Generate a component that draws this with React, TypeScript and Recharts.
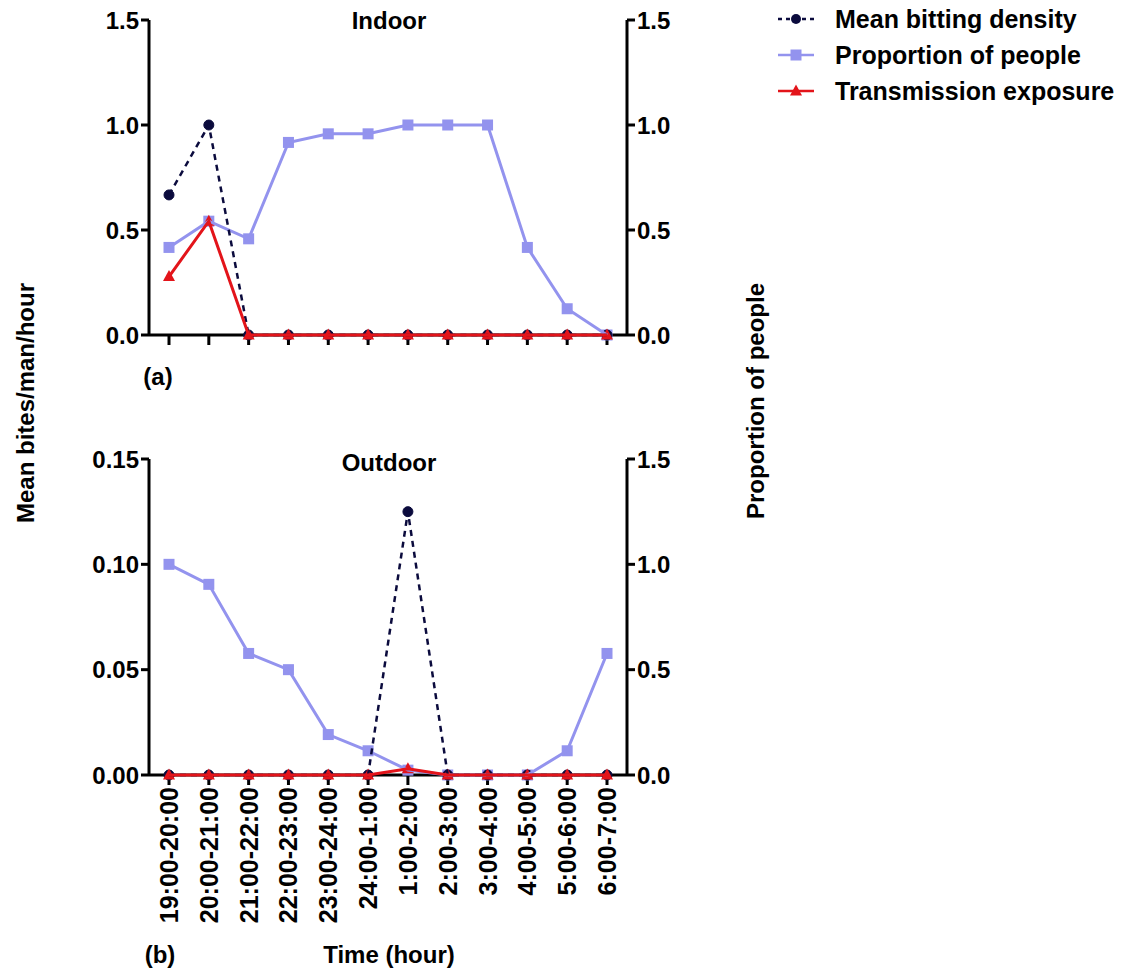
import React from "react";
import { LineChart, Line, XAxis, YAxis } from "recharts";

const FONT = "'Liberation Sans', Arial, sans-serif";

const timeLabels = [
  "19:00-20:00", "20:00-21:00", "21:00-22:00", "22:00-23:00", "23:00-24:00", "24:00-1:00",
  "1:00-2:00", "2:00-3:00", "3:00-4:00", "4:00-5:00", "5:00-6:00", "6:00-7:00",
];

// (a) indoor
const indoorDensity = [0.667, 1.0, 0, 0, 0, 0, 0, 0, 0, 0, 0, 0];
const indoorProportion = [0.417, 0.542, 0.458, 0.917, 0.958, 0.958, 1.0, 1.0, 1.0, 0.417, 0.125, 0];
const indoorExposure = [0.278, 0.542, 0, 0, 0, 0, 0, 0, 0, 0, 0, 0];

// (b) outdoor
const outdoorDensity = [0, 0, 0, 0, 0, 0, 0.125, 0, 0, 0, 0, 0];
const outdoorProportion = [1.0, 0.905, 0.577, 0.5, 0.192, 0.115, 0.023, 0, 0, 0, 0.115, 0.577];
const outdoorExposure = [0, 0, 0, 0, 0, 0, 0.003, 0, 0, 0, 0, 0];

const indoorTicks = [0, 0.5, 1.0, 1.5];
const outdoorTicks = [0, 0.05, 0.1, 0.15];
const proportionTicks = [0, 0.5, 1.0, 1.5];

const NAVY = "#0b0b3d";
const LILAC = "#9393ee";
const RED = "#e3141a";

const buildRows = (density: number[], proportion: number[], exposure: number[]) =>
  timeLabels.map((t, i) => ({ time: t, density: density[i], proportion: proportion[i], exposure: exposure[i] }));

const indoorData = buildRows(indoorDensity, indoorProportion, indoorExposure);
const outdoorData = buildRows(outdoorDensity, outdoorProportion, outdoorExposure);

const tickStyle = { fill: "#000", fontSize: 24, fontWeight: "bold", fontFamily: FONT };
const axisStroke = { stroke: "#000", strokeWidth: 3 };

const CircleDot = (props: any) => (
  <circle key={`c-${props.index}`} cx={props.cx} cy={props.cy} r={5} fill={NAVY} stroke={NAVY} />
);
const SquareDot = (props: any) => (
  <rect key={`s-${props.index}`} x={props.cx - 5.5} y={props.cy - 5.5} width={11} height={11} fill={LILAC} />
);
const TriDot = (props: any) => (
  <path
    key={`t-${props.index}`}
    d={`M${props.cx},${props.cy - 6.5} L${props.cx + 6},${props.cy + 4.5} L${props.cx - 6},${props.cy + 4.5} Z`}
    fill={RED}
  />
);

const RotatedTick = (props: any) => {
  const { x, y, payload } = props;
  return (
    <text
      x={x}
      y={y}
      transform={`rotate(-90, ${x}, ${y})`}
      textAnchor="end"
      dominantBaseline="central"
      style={{ ...tickStyle, fontSize: 25 }}
    >
      {payload.value}
    </text>
  );
};

const EmptyTick = () => <g />;

interface PanelProps {
  data: any[];
  top: number;
  height: number;
  marginTop: number;
  marginBottom: number;
  xHeight: number;
  leftMax: number;
  leftTicks: number[];
  leftDigits: number;
  showLabels: boolean;
}

const Panel = ({ data, top, height, marginTop, marginBottom, xHeight, leftMax, leftTicks, leftDigits, showLabels }: PanelProps) => (
  <div style={{ position: "absolute", left: 0, top }}>
    <LineChart width={700} height={height} data={data} margin={{ top: marginTop, right: 13, bottom: marginBottom, left: 89 }}>
      <XAxis
        dataKey="time"
        interval={0}
        padding={{ left: 20, right: 20 }}
        height={xHeight}
        axisLine={axisStroke}
        tickLine={axisStroke}
        tickSize={10}
        tick={showLabels ? <RotatedTick /> : <EmptyTick />}
      />
      <YAxis
        yAxisId="left"
        width={60}
        domain={[0, leftMax]}
        ticks={leftTicks}
        interval={0}
        axisLine={axisStroke}
        tickLine={axisStroke}
        tickSize={8}
        tick={tickStyle}
        tickFormatter={(v: number) => v.toFixed(leftDigits)}
      />
      <YAxis
        yAxisId="right"
        orientation="right"
        width={60}
        domain={[0, 1.5]}
        ticks={proportionTicks}
        interval={0}
        axisLine={axisStroke}
        tickLine={axisStroke}
        tickSize={8}
        tick={tickStyle}
        tickFormatter={(v: number) => v.toFixed(1)}
      />
      <Line
        yAxisId="right"
        dataKey="proportion"
        type="linear"
        stroke={LILAC}
        strokeWidth={3}
        dot={SquareDot}
        zIndex={601}
        isAnimationActive={false}
      />
      <Line
        yAxisId="left"
        dataKey="density"
        type="linear"
        stroke={NAVY}
        strokeWidth={2.5}
        strokeDasharray="6 5"
        dot={CircleDot}
        zIndex={602}
        isAnimationActive={false}
      />
      <Line
        yAxisId="left"
        dataKey="exposure"
        type="linear"
        stroke={RED}
        strokeWidth={3}
        dot={TriDot}
        zIndex={603}
        isAnimationActive={false}
      />
    </LineChart>
  </div>
);

const textStyle = { fontSize: 24, fontWeight: "bold", fontFamily: FONT, fill: "#000" } as any;

const legendItems = [
  { label: "Mean bitting density", color: NAVY, dash: "4 4", marker: "circle" },
  { label: "Proportion of people", color: LILAC, dash: undefined, marker: "square" },
  { label: "Transmission exposure", color: RED, dash: undefined, marker: "triangle" },
];

export default function App() {
  return (
    <div style={{ position: "absolute", left: 0, top: 0, width: 1130, height: 974, background: "#fff" }}>
      <Panel
        data={indoorData}
        top={0}
        height={400}
        marginTop={20}
        marginBottom={35}
        xHeight={30}
        leftMax={1.5}
        leftTicks={indoorTicks}
        leftDigits={1}
        showLabels={false}
      />
      <Panel
        data={outdoorData}
        top={440}
        height={520}
        marginTop={19}
        marginBottom={25}
        xHeight={160}
        leftMax={0.15}
        leftTicks={outdoorTicks}
        leftDigits={2}
        showLabels={true}
      />
      <svg width={1130} height={974} style={{ position: "absolute", left: 0, top: 0, pointerEvents: "none" }}>
        <text x={389} y={29} textAnchor="middle" style={textStyle}>Indoor</text>
        <text x={389} y={471} textAnchor="middle" style={textStyle}>Outdoor</text>
        <text x={158} y={385} textAnchor="middle" style={textStyle}>(a)</text>
        <text x={160} y={963} textAnchor="middle" style={textStyle}>(b)</text>
        <text x={389} y={963} textAnchor="middle" style={textStyle}>Time (hour)</text>
        <text
          x={25}
          y={403}
          transform="rotate(-90, 25, 403)"
          textAnchor="middle"
          dominantBaseline="central"
          style={textStyle}
        >
          Mean bites/man/hour
        </text>
        <text
          x={755}
          y={401}
          transform="rotate(-90, 755, 401)"
          textAnchor="middle"
          dominantBaseline="central"
          style={textStyle}
        >
          Proportion of people
        </text>
        {legendItems.map((item, i) => {
          const cy = 19 + i * 36;
          return (
            <g key={item.label}>
              <line x1={778} x2={814} y1={cy} y2={cy} stroke={item.color} strokeWidth={2.5} strokeDasharray={item.dash} />
              {item.marker === "circle" && <circle cx={796} cy={cy} r={5} fill={item.color} />}
              {item.marker === "square" && <rect x={790.5} y={cy - 5.5} width={11} height={11} fill={item.color} />}
              {item.marker === "triangle" && (
                <path d={`M796,${cy - 6.5} L802,${cy + 4.5} L790,${cy + 4.5} Z`} fill={item.color} />
              )}
              <text x={835} y={cy} dominantBaseline="central" style={{ ...textStyle, fontSize: 25 }}>
                {item.label}
              </text>
            </g>
          );
        })}
      </svg>
    </div>
  );
}
